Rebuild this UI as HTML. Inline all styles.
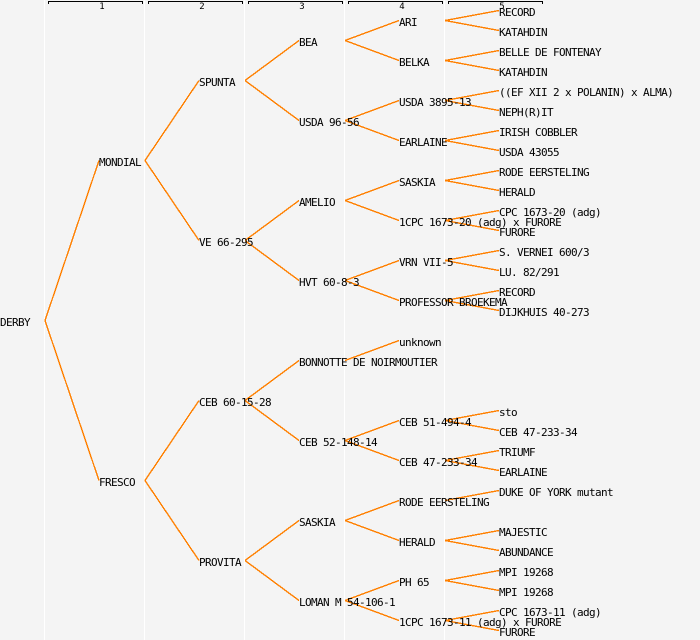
<!DOCTYPE html>
<html>
<head>
<meta charset="utf-8">
<style>
html,body{margin:0;padding:0;background:#f4f4f4}
svg{display:block}
text{font-family:"DejaVu Sans Mono","Liberation Mono",monospace;font-size:11px;letter-spacing:-0.62px;fill:#000}
.h{font-size:9px;letter-spacing:0;text-anchor:middle}
.o{stroke:#ff8000;stroke-width:1.4;fill:none;shape-rendering:crispEdges}
.w{stroke:#fff;stroke-width:1;shape-rendering:crispEdges}
.b{stroke:#000;stroke-width:1;fill:none;shape-rendering:crispEdges}
</style>
</head>
<body>
<svg xmlns="http://www.w3.org/2000/svg" width="700" height="640" viewBox="0 0 700 640">
<rect width="700" height="640" fill="#f4f4f4"/>
<path class="w" d="M44.5 0V640M144.5 0V640M244.5 0V640M344.5 0V640M444.5 0V640"/>
<path class="b" d="M48.5 4V1.5H142.5V4M148.5 4V1.5H242.5V4M248.5 4V1.5H342.5V4M348.5 4V1.5H442.5V4M448.5 4V1.5H542.5V4"/>
<text class="h" x="102" y="9">1</text>
<text class="h" x="202" y="9">2</text>
<text class="h" x="302" y="9">3</text>
<text class="h" x="402" y="9">4</text>
<text class="h" x="502" y="9">5</text>

<path class="o" d="M45 320.5L99 160.5M45 320.5L99 480.5"/>
<path class="o" d="M145 160.5L199 80.5M145 160.5L199 240.5M145 480.5L199 400.5M145 480.5L199 560.5"/>
<path class="o" d="M245 80.5L299 40.5M245 80.5L299 120.5M245 240.5L299 200.5M245 240.5L299 280.5M245 400.5L299 360.5M245 400.5L299 440.5M245 560.5L299 520.5M245 560.5L299 600.5"/>
<path class="o" d="M345 40.5L399 20.5M345 40.5L399 60.5M345 120.5L399 100.5M345 120.5L399 140.5M345 200.5L399 180.5M345 200.5L399 220.5M345 280.5L399 260.5M345 280.5L399 300.5M345 360.5L399 340.5M345 440.5L399 420.5M345 440.5L399 460.5M345 520.5L399 500.5M345 520.5L399 540.5M345 600.5L399 580.5M345 600.5L399 620.5"/>
<path class="o" d="M445 20.5L499 10.5M445 20.5L499 30.5M445 60.5L499 50.5M445 60.5L499 70.5M445 100.5L499 90.5M445 100.5L499 110.5M445 140.5L499 130.5M445 140.5L499 150.5M445 180.5L499 170.5M445 180.5L499 190.5M445 220.5L499 210.5M445 220.5L499 230.5M445 260.5L499 250.5M445 260.5L499 270.5M445 300.5L499 290.5M445 300.5L499 310.5M445 420.5L499 410.5M445 420.5L499 430.5M445 460.5L499 450.5M445 460.5L499 470.5M445 500.5L499 490.5M445 540.5L499 530.5M445 540.5L499 550.5M445 580.5L499 570.5M445 580.5L499 590.5M445 620.5L499 610.5M445 620.5L499 630.5"/>

<text x="0" y="326">DERBY</text>
<text x="99" y="166">MONDIAL</text>
<text x="99" y="486">FRESCO</text>
<text x="199" y="86">SPUNTA</text>
<text x="199" y="246">VE 66-295</text>
<text x="199" y="406">CEB 60-15-28</text>
<text x="199" y="566">PROVITA</text>
<text x="299" y="46">BEA</text>
<text x="299" y="126">USDA 96-56</text>
<text x="299" y="206">AMELIO</text>
<text x="299" y="286">HVT 60-8-3</text>
<text x="299" y="366">BONNOTTE DE NOIRMOUTIER</text>
<text x="299" y="446">CEB 52-148-14</text>
<text x="299" y="526">SASKIA</text>
<text x="299" y="606">LOMAN M 54-106-1</text>
<text x="399" y="26">ARI</text>
<text x="399" y="66">BELKA</text>
<text x="399" y="106">USDA 3895-13</text>
<text x="399" y="146">EARLAINE</text>
<text x="399" y="186">SASKIA</text>
<text x="399" y="226">1CPC 1673-20 (adg) x FURORE</text>
<text x="399" y="266">VRN VII-5</text>
<text x="399" y="306">PROFESSOR BROEKEMA</text>
<text x="399" y="346">unknown</text>
<text x="399" y="426">CEB 51-494-4</text>
<text x="399" y="466">CEB 47-233-34</text>
<text x="399" y="506">RODE EERSTELING</text>
<text x="399" y="546">HERALD</text>
<text x="399" y="586">PH 65</text>
<text x="399" y="626">1CPC 1673-11 (adg) x FURORE</text>
<text x="499" y="16">RECORD</text>
<text x="499" y="36">KATAHDIN</text>
<text x="499" y="56">BELLE DE FONTENAY</text>
<text x="499" y="76">KATAHDIN</text>
<text x="499" y="96">((EF XII 2 x POLANIN) x ALMA)</text>
<text x="499" y="116">NEPH(R)IT</text>
<text x="499" y="136">IRISH COBBLER</text>
<text x="499" y="156">USDA 43055</text>
<text x="499" y="176">RODE EERSTELING</text>
<text x="499" y="196">HERALD</text>
<text x="499" y="216">CPC 1673-20 (adg)</text>
<text x="499" y="236">FURORE</text>
<text x="499" y="256">S. VERNEI 600/3</text>
<text x="499" y="276">LU. 82/291</text>
<text x="499" y="296">RECORD</text>
<text x="499" y="316">DIJKHUIS 40-273</text>
<text x="499" y="416">sto</text>
<text x="499" y="436">CEB 47-233-34</text>
<text x="499" y="456">TRIUMF</text>
<text x="499" y="476">EARLAINE</text>
<text x="499" y="496">DUKE OF YORK mutant</text>
<text x="499" y="536">MAJESTIC</text>
<text x="499" y="556">ABUNDANCE</text>
<text x="499" y="576">MPI 19268</text>
<text x="499" y="596">MPI 19268</text>
<text x="499" y="616">CPC 1673-11 (adg)</text>
<text x="499" y="636">FURORE</text>
</svg>
</body>
</html>
